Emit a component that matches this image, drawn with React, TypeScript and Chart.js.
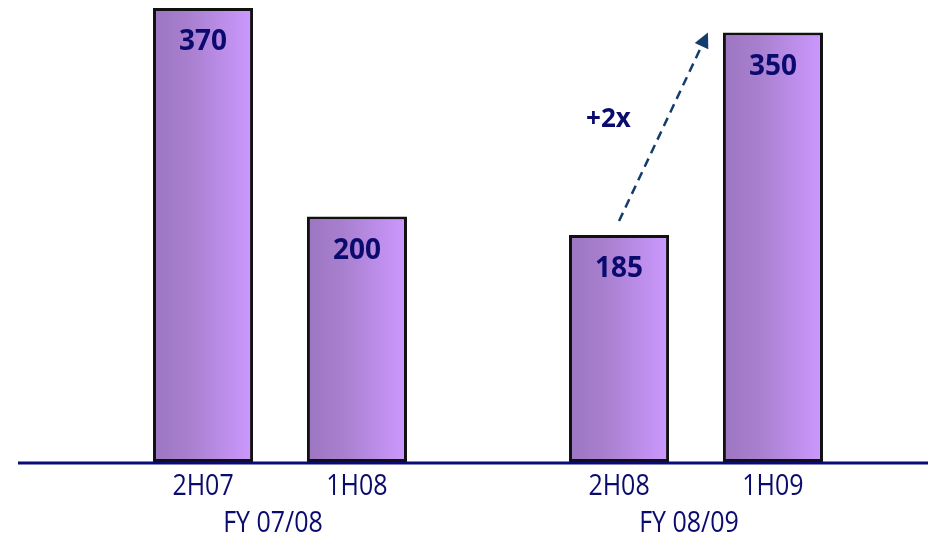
import React, { useEffect, useRef } from "react";
import { Chart, registerables } from "chart.js";

Chart.register(...registerables);

// Fiscal years and the two half-year periods shown in each
const fiscalYears = ["FY 07/08", "FY 08/09"];
const firstPeriodLabels = ["2H07", "2H08"];
const secondPeriodLabels = ["1H08", "1H09"];
const firstPeriodValues = [370, 185];
const secondPeriodValues = [200, 350];
const growthLabel = "+2x";

const NAVY = "#0b0b6e";
const ARROW = "#123c6b";
const CATEGORY_PCT = 0.74;
const BAR_PCT = 0.65;

function barGradient(ctx: any) {
  const chart = ctx.chart;
  const xs = chart.scales?.x;
  if (!xs || ctx.dataIndex === undefined) return "#b48ae0";
  const n = chart.data.labels.length;
  const cat = xs.getPixelForValue(ctx.dataIndex);
  const catW = (xs.width / n) * CATEGORY_PCT;
  const slot = catW / chart.data.datasets.length;
  const center = cat - catW / 2 + slot * (ctx.datasetIndex + 0.5);
  const half = (slot * BAR_PCT) / 2;
  if (!isFinite(center) || !isFinite(half) || half <= 0) return "#b48ae0";
  const g = chart.ctx.createLinearGradient(center - half, 0, center + half, 0);
  g.addColorStop(0, "#9c76c2");
  g.addColorStop(0.35, "#a87fce");
  g.addColorStop(1, "#cc99ff");
  return g;
}

// text drawn slightly stretched vertically for a taller, narrower face
function tallText(ctx: CanvasRenderingContext2D, text: string, x: number, y: number, font: string, sy: number) {
  ctx.save();
  ctx.font = font;
  ctx.translate(x, y);
  ctx.scale(1, sy);
  ctx.fillText(text, 0, 0);
  ctx.restore();
}

const annotations = {
  id: "annotations",
  afterDatasetsDraw(chart: any) {
    const { ctx, scales } = chart;
    const yZero = scales.y.getPixelForValue(0);

    // baseline
    ctx.save();
    ctx.strokeStyle = "#0a0a78";
    ctx.lineWidth = 3;
    ctx.beginPath();
    ctx.moveTo(18, yZero + 1);
    ctx.lineTo(chart.width, yZero + 1);
    ctx.stroke();

    const metas = [chart.getDatasetMeta(0), chart.getDatasetMeta(1)];
    const periodLabels = [firstPeriodLabels, secondPeriodLabels];

    // values inside bars and period labels beneath them
    ctx.fillStyle = NAVY;
    ctx.textAlign = "center";
    ctx.textBaseline = "middle";
    metas.forEach((meta: any, di: number) => {
      meta.data.forEach((bar: any, i: number) => {
        const v = chart.data.datasets[di].data[i];
        tallText(ctx, String(v), bar.x, bar.y + 34, "bold 28px 'Open Sans'", 1.05);
        tallText(ctx, periodLabels[di][i], bar.x, yZero + 25, "25px 'Open Sans'", 1.15);
      });
    });

    // fiscal year labels
    fiscalYears.forEach((fy, i) => {
      tallText(ctx, fy, scales.x.getPixelForValue(i) - 7, yZero + 62, "25px 'Open Sans'", 1.15);
    });

    // growth arrow from 2H08 to 1H09
    const from = metas[0].data[1];
    const to = metas[1].data[1];
    const x0 = from.x;
    const y0 = from.y - 14;
    const x1 = to.x - to.width / 2 - 15;
    const y1 = to.y;
    const ang = Math.atan2(y1 - y0, x1 - x0);
    const headLen = 15;
    const bx = x1 - headLen * Math.cos(ang);
    const by = y1 - headLen * Math.sin(ang);
    ctx.strokeStyle = ARROW;
    ctx.lineWidth = 2.5;
    ctx.setLineDash([9, 6]);
    ctx.beginPath();
    ctx.moveTo(x0, y0);
    ctx.lineTo(bx, by);
    ctx.stroke();
    ctx.setLineDash([]);
    ctx.fillStyle = ARROW;
    ctx.beginPath();
    ctx.moveTo(x1, y1);
    ctx.lineTo(bx + 7.5 * Math.sin(ang), by - 7.5 * Math.cos(ang));
    ctx.lineTo(bx - 7.5 * Math.sin(ang), by + 7.5 * Math.cos(ang));
    ctx.closePath();
    ctx.fill();

    ctx.fillStyle = NAVY;
    tallText(ctx, growthLabel, (x0 + x1) / 2 - 55, (y0 + y1) / 2 - 7, "bold 26px 'Open Sans'", 1.0);
    ctx.restore();
  },
};

export default function App() {
  const ref = useRef<HTMLCanvasElement>(null);

  useEffect(() => {
    if (!ref.current) return;
    const chart = new Chart(ref.current, {
      type: "bar",
      data: {
        labels: fiscalYears,
        datasets: [
          {
            data: firstPeriodValues,
            backgroundColor: barGradient,
            borderColor: "#111111",
            borderWidth: 3,
            borderSkipped: false,
            categoryPercentage: CATEGORY_PCT,
            barPercentage: BAR_PCT,
          },
          {
            data: secondPeriodValues,
            backgroundColor: barGradient,
            borderColor: "#111111",
            borderWidth: 3,
            borderSkipped: false,
            categoryPercentage: CATEGORY_PCT,
            barPercentage: BAR_PCT,
          },
        ],
      },
      options: {
        responsive: false,
        maintainAspectRatio: false,
        animation: false,
        layout: { padding: { left: 72, right: 24, top: 8, bottom: 78 } },
        plugins: { legend: { display: false }, tooltip: { enabled: false } },
        scales: {
          x: { display: false },
          y: { display: false, min: 0, max: 370 },
        },
      },
      plugins: [annotations],
    });
    return () => chart.destroy();
  }, []);

  return (
    <div style={{ position: "fixed", left: 0, top: 0, width: 928, height: 540, background: "#fff" }}>
      <canvas ref={ref} width={928} height={540} />
    </div>
  );
}
